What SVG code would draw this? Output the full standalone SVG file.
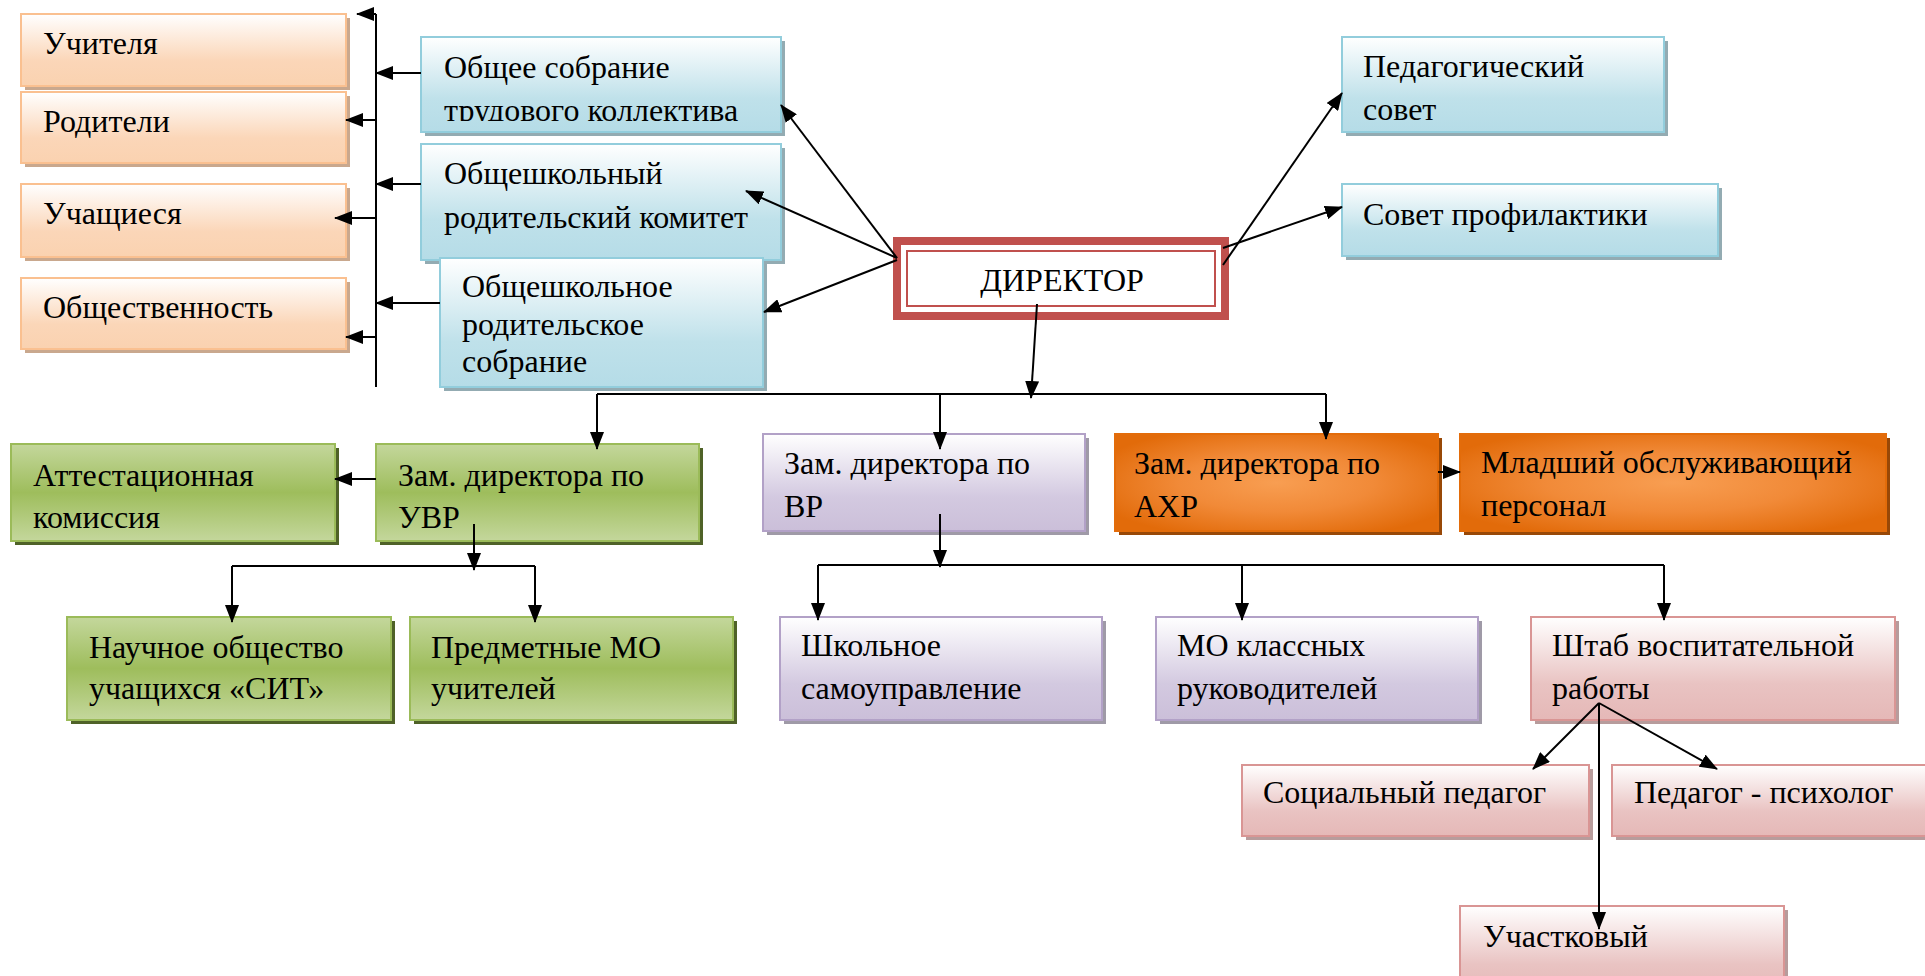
<svg xmlns="http://www.w3.org/2000/svg" width="1925" height="976" viewBox="0 0 1925 976">
<defs>
<linearGradient id="gOr" x1="0" y1="0" x2="0" y2="1"><stop offset="0" stop-color="#FFFFFF"/><stop offset="0.65" stop-color="#FBD6B8"/><stop offset="1" stop-color="#FAD2B0"/></linearGradient>
<linearGradient id="gBl" x1="0" y1="0" x2="0" y2="1"><stop offset="0" stop-color="#FFFFFF"/><stop offset="0.65" stop-color="#BFE1EA"/><stop offset="1" stop-color="#B5DCE7"/></linearGradient>
<linearGradient id="gGr" x1="0" y1="0" x2="0" y2="1"><stop offset="0" stop-color="#C4D79C"/><stop offset="0.5" stop-color="#9EBD5C"/><stop offset="1" stop-color="#C4D79C"/></linearGradient>
<linearGradient id="gPu" x1="0" y1="0" x2="0" y2="1"><stop offset="0" stop-color="#FFFFFF"/><stop offset="0.65" stop-color="#D3C9E0"/><stop offset="1" stop-color="#CBBFD9"/></linearGradient>
<linearGradient id="gPk" x1="0" y1="0" x2="0" y2="1"><stop offset="0" stop-color="#FFFFFF"/><stop offset="0.65" stop-color="#E9C3C2"/><stop offset="1" stop-color="#E5B8B7"/></linearGradient>
<radialGradient id="gAx" cx="0.5" cy="0.5" r="0.6"><stop offset="0" stop-color="#F89E52"/><stop offset="0.5" stop-color="#F18A38"/><stop offset="1" stop-color="#E26B0A"/></radialGradient>
<marker id="ar" markerUnits="userSpaceOnUse" markerWidth="18" markerHeight="14" viewBox="0 0 18 14" refX="17" refY="7" orient="auto"><path d="M0,0 L18,7 L0,14 z" fill="#000"/></marker>
<clipPath id="c1"><rect x="421" y="37" width="360" height="84"/></clipPath>
</defs>
<style>
text{font-family:"Liberation Serif","Times New Roman",serif;font-size:32px;fill:#000}
.or{fill:url(#gOr);stroke:#FAC090;stroke-width:2}
.bl{fill:url(#gBl);stroke:#92CDDC;stroke-width:2}
.gr{fill:url(#gGr);stroke:#9BBB59;stroke-width:2}
.pu{fill:url(#gPu);stroke:#B2A1C7;stroke-width:2}
.pk{fill:url(#gPk);stroke:#D99594;stroke-width:2}
.ax{fill:url(#gAx);stroke:#E36C0A;stroke-width:2}
.sOr{fill:#C9A88E}
.sBl{fill:#93ABB2}
.sGr{fill:#4F6228}
.sPu{fill:#9F9AA7}
.sPk{fill:#B79C9C}
.sAx{fill:#984807}
.cn line,.cn polyline{stroke:#000;stroke-width:2;fill:none}
</style>
<rect x="0" y="0" width="1925" height="976" fill="#FFFFFF"/>

<g id="n-uchitelya"><rect class="sOr" x="25" y="18" width="325" height="72"/><rect class="or" x="21" y="14" width="325" height="72"/><text x="43" y="54">Учителя</text></g>
<g id="n-roditeli"><rect class="sOr" x="25" y="96" width="325" height="71"/><rect class="or" x="21" y="92" width="325" height="71"/><text x="43" y="132">Родители</text></g>
<g id="n-uchaschiesya"><rect class="sOr" x="25" y="188" width="325" height="73"/><rect class="or" x="21" y="184" width="325" height="73"/><text x="43" y="224">Учащиеся</text></g>
<g id="n-obsch"><rect class="sOr" x="25" y="282" width="325" height="71"/><rect class="or" x="21" y="278" width="325" height="71"/><text x="43" y="318">Общественность</text></g>

<g id="n-sobranie-tk"><rect class="sBl" x="425" y="41" width="360" height="95"/><rect class="bl" x="421" y="37" width="360" height="95"/><text x="444" y="78">Общее собрание</text><text x="444" y="121" clip-path="url(#c1)">трудового коллектива</text></g>
<g id="n-komitet"><rect class="sBl" x="425" y="148" width="360" height="116"/><rect class="bl" x="421" y="144" width="360" height="116"/><text x="444" y="184">Общешкольный</text><text x="444" y="228">родительский комитет</text></g>
<g id="n-rod-sobranie"><rect class="sBl" x="444" y="262" width="323" height="129"/><rect class="bl" x="440" y="258" width="323" height="129"/><text x="462" y="297">Общешкольное</text><text x="462" y="335">родительское</text><text x="462" y="372">собрание</text></g>
<g id="n-pedsovet"><rect class="sBl" x="1346" y="41" width="322" height="95"/><rect class="bl" x="1342" y="37" width="322" height="95"/><text x="1363" y="77">Педагогический</text><text x="1363" y="120">совет</text></g>
<g id="n-profilaktika"><rect class="sBl" x="1346" y="188" width="376" height="72"/><rect class="bl" x="1342" y="184" width="376" height="72"/><text x="1363" y="225">Совет профилактики</text></g>

<g id="n-director"><rect x="897" y="241" width="328" height="75" fill="#FFFFFF" stroke="#C0504D" stroke-width="8"/><rect x="905" y="249" width="312" height="59" fill="none" stroke="#FFFFFF" stroke-width="3"/><rect x="907" y="251" width="308" height="55" fill="#FFFFFF" stroke="#C0504D" stroke-width="2"/><text x="1062" y="291" text-anchor="middle">ДИРЕКТОР</text></g>

<g id="n-attest"><rect class="sGr" x="15" y="448" width="324" height="97"/><rect class="gr" x="11" y="444" width="324" height="97"/><text x="33" y="486">Аттестационная</text><text x="33" y="528">комиссия</text></g>
<g id="n-uvr"><rect class="sGr" x="380" y="448" width="323" height="97"/><rect class="gr" x="376" y="444" width="323" height="97"/><text x="398" y="486">Зам. директора по</text><text x="398" y="528">УВР</text></g>
<g id="n-nauchnoe"><rect class="sGr" x="71" y="621" width="324" height="103"/><rect class="gr" x="67" y="617" width="324" height="103"/><text x="89" y="658">Научное общество</text><text x="89" y="699">учащихся «СИТ»</text></g>
<g id="n-predmetnye"><rect class="sGr" x="414" y="621" width="323" height="103"/><rect class="gr" x="410" y="617" width="323" height="103"/><text x="431" y="658">Предметные МО</text><text x="431" y="699">учителей</text></g>

<g id="n-vr"><rect class="sPu" x="767" y="438" width="322" height="97"/><rect class="pu" x="763" y="434" width="322" height="97"/><text x="784" y="474">Зам. директора по</text><text x="784" y="517">ВР</text></g>
<g id="n-axr"><rect class="sAx" x="1119" y="438" width="323" height="97"/><rect class="ax" x="1115" y="434" width="323" height="97"/><text x="1134" y="474">Зам. директора по</text><text x="1134" y="517">АХР</text></g>
<g id="n-mladshiy"><rect class="sAx" x="1464" y="438" width="426" height="97"/><rect class="ax" x="1460" y="434" width="426" height="97"/><text x="1481" y="473">Младший обслуживающий</text><text x="1481" y="516">персонал</text></g>

<g id="n-shkolnoe"><rect class="sPu" x="784" y="621" width="322" height="103"/><rect class="pu" x="780" y="617" width="322" height="103"/><text x="801" y="656">Школьное</text><text x="801" y="699">самоуправление</text></g>
<g id="n-mo-klass"><rect class="sPu" x="1160" y="621" width="322" height="103"/><rect class="pu" x="1156" y="617" width="322" height="103"/><text x="1177" y="656">МО классных</text><text x="1177" y="699">руководителей</text></g>
<g id="n-shtab"><rect class="sPk" x="1535" y="621" width="364" height="103"/><rect class="pk" x="1531" y="617" width="364" height="103"/><text x="1552" y="656">Штаб воспитательной</text><text x="1552" y="699">работы</text></g>
<g id="n-socped"><rect class="sPk" x="1246" y="769" width="347" height="71"/><rect class="pk" x="1242" y="765" width="347" height="71"/><text x="1263" y="803">Социальный педагог</text></g>
<g id="n-psiholog"><rect class="sPk" x="1616" y="769" width="320" height="71"/><rect class="pk" x="1612" y="765" width="320" height="71"/><text x="1634" y="803">Педагог - психолог</text></g>
<g id="n-uchastkovyy"><rect class="sPk" x="1464" y="910" width="324" height="90"/><rect class="pk" x="1460" y="906" width="324" height="90"/><text x="1483" y="947">Участковый</text></g>

<g id="connectors" class="cn">
<line x1="376" y1="14" x2="376" y2="387"/>
<line x1="376" y1="14" x2="357" y2="14" marker-end="url(#ar)"/>
<line x1="376" y1="120" x2="346" y2="120" marker-end="url(#ar)"/>
<line x1="376" y1="218" x2="335" y2="218" marker-end="url(#ar)"/>
<line x1="376" y1="337" x2="346" y2="337" marker-end="url(#ar)"/>
<line x1="421" y1="73" x2="376" y2="73" marker-end="url(#ar)"/>
<line x1="421" y1="184" x2="376" y2="184" marker-end="url(#ar)"/>
<line x1="440" y1="303" x2="376" y2="303" marker-end="url(#ar)"/>
<line x1="897" y1="258" x2="781" y2="105" marker-end="url(#ar)"/>
<line x1="897" y1="258" x2="746" y2="191" marker-end="url(#ar)"/>
<line x1="897" y1="260" x2="764" y2="312" marker-end="url(#ar)"/>
<line x1="1223" y1="265" x2="1342" y2="93" marker-end="url(#ar)"/>
<line x1="1223" y1="248" x2="1342" y2="207" marker-end="url(#ar)"/>
<line x1="1037" y1="304" x2="1031" y2="398" marker-end="url(#ar)"/>
<line x1="597" y1="394" x2="1326" y2="394"/>
<line x1="597" y1="394" x2="597" y2="449" marker-end="url(#ar)"/>
<line x1="940" y1="394" x2="940" y2="449" marker-end="url(#ar)"/>
<line x1="1326" y1="394" x2="1326" y2="439" marker-end="url(#ar)"/>
<line x1="376" y1="479" x2="335" y2="479" marker-end="url(#ar)"/>
<line x1="474" y1="524" x2="474" y2="570" marker-end="url(#ar)"/>
<line x1="232" y1="566" x2="535" y2="566"/>
<line x1="232" y1="566" x2="232" y2="622" marker-end="url(#ar)"/>
<line x1="535" y1="566" x2="535" y2="622" marker-end="url(#ar)"/>
<line x1="1438" y1="472" x2="1460" y2="472" marker-end="url(#ar)"/>
<line x1="940" y1="514" x2="940" y2="567" marker-end="url(#ar)"/>
<line x1="818" y1="565" x2="1664" y2="565"/>
<line x1="818" y1="565" x2="818" y2="620" marker-end="url(#ar)"/>
<line x1="1242" y1="565" x2="1242" y2="620" marker-end="url(#ar)"/>
<line x1="1664" y1="565" x2="1664" y2="620" marker-end="url(#ar)"/>
<line x1="1599" y1="703" x2="1533" y2="769" marker-end="url(#ar)"/>
<line x1="1599" y1="703" x2="1717" y2="769" marker-end="url(#ar)"/>
<line x1="1599" y1="703" x2="1599" y2="929" marker-end="url(#ar)"/>
</g>
</svg>
